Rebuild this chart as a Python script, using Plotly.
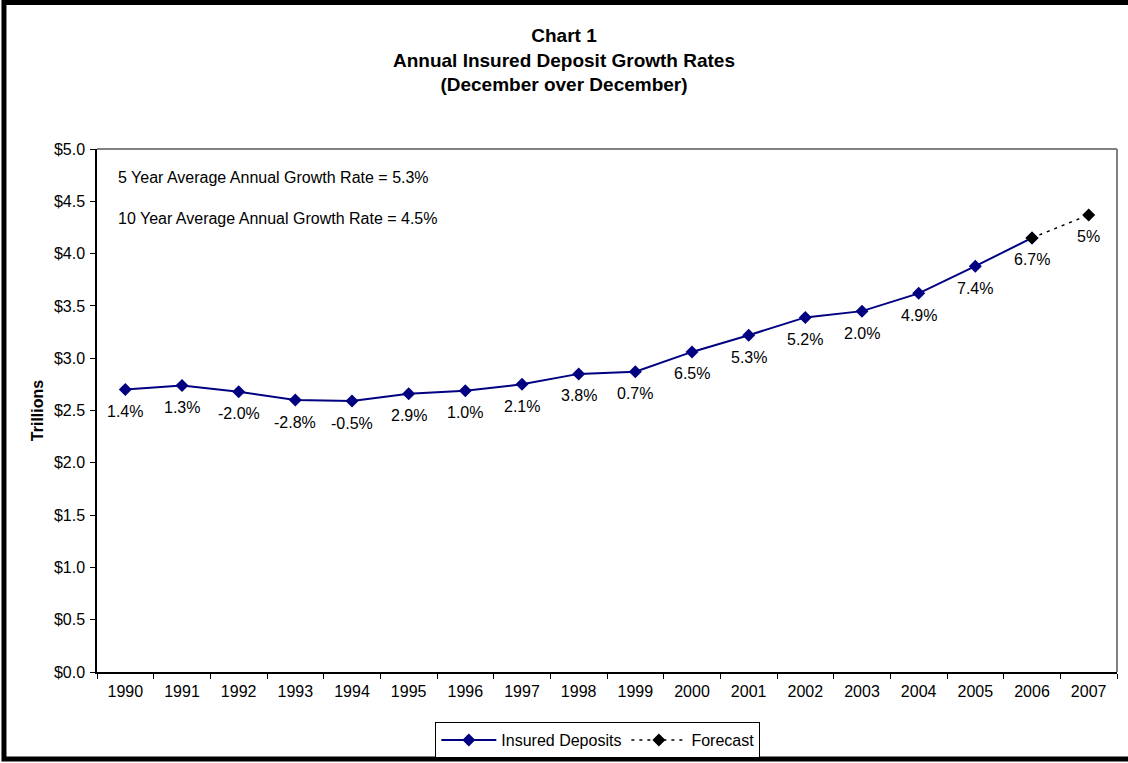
import plotly.graph_objects as go

years = [str(y) for y in range(1990, 2008)]
deposits = [2.70, 2.74, 2.68, 2.60, 2.59, 2.66, 2.69, 2.75, 2.85, 2.87,
            3.06, 3.22, 3.39, 3.45, 3.62, 3.88, 4.15]
growth_labels = ["1.4%", "1.3%", "-2.0%", "-2.8%", "-0.5%", "2.9%", "1.0%", "2.1%",
                 "3.8%", "0.7%", "6.5%", "5.3%", "5.2%", "2.0%", "4.9%", "7.4%", "6.7%"]
forecast_years = ["2006", "2007"]
forecast_values = [4.15, 4.37]
forecast_labels = ["", "5%"]
notes = ["5 Year Average Annual Growth Rate = 5.3%",
         "10 Year Average Annual Growth Rate = 4.5%"]

FONT = "Arial, Liberation Sans, sans-serif"

fig = go.Figure()
fig.add_trace(go.Scatter(
    x=years[:len(deposits)], y=deposits, name="Insured Deposits",
    mode="lines+markers",
    line=dict(color="#000080", width=2),
    marker=dict(symbol="diamond", size=10, color="#000080"),
))
fig.add_trace(go.Scatter(
    x=forecast_years, y=forecast_values, name="Forecast",
    mode="lines+markers",
    line=dict(color="black", width=1.5, dash="3px,5px"),
    marker=dict(symbol="diamond", size=10, color="black"),
))

# data labels below each point (x given as category index)
for xs, ys, labs in [(years[:len(deposits)], deposits, growth_labels),
                     (forecast_years, forecast_values, forecast_labels)]:
    for xv, yv, lab in zip(xs, ys, labs):
        if lab:
            fig.add_annotation(x=years.index(xv), y=yv, text=lab, showarrow=False,
                               yshift=-22, xanchor="center", yanchor="middle",
                               font=dict(size=16, color="black", family=FONT))

note_y = [0.946, 0.867]
for t, yy in zip(notes, note_y):
    fig.add_annotation(text=t, xref="paper", yref="paper", x=0.0186, y=yy,
                       xanchor="left", yanchor="middle", showarrow=False,
                       font=dict(size=16, color="black", family=FONT))

# plot-area gray border (top/right)
fig.add_shape(type="line", xref="paper", yref="paper", x0=0, x1=1, y0=1, y1=1,
              line=dict(color="#808080", width=2))
fig.add_shape(type="line", xref="paper", yref="paper", x0=1, x1=1, y0=0, y1=1,
              line=dict(color="#808080", width=2))
# outer black frame
fig.add_shape(type="rect", xref="paper", yref="paper", x0=-0.0912, x1=1.1,
              y0=-0.1663, y1=1.2801, line=dict(color="black", width=5))

fig.update_layout(
    width=1128, height=763,
    margin=dict(l=97, r=11, t=149, b=91),
    paper_bgcolor="white", plot_bgcolor="white",
    font=dict(family=FONT, size=16, color="black"),
    title=dict(text="<b>Chart 1<br>Annual Insured Deposit Growth Rates<br>(December over December)</b>",
               x=0.5, xref="container", y=0.945, yref="container", yanchor="top",
               font=dict(size=19, family=FONT, color="black")),
    showlegend=True,
    legend=dict(orientation="h", x=0.491, xanchor="center",
                y=0.0537, yref="container", yanchor="top",
                bordercolor="black", borderwidth=1, bgcolor="white",
                font=dict(size=16, family=FONT), itemwidth=55),
    xaxis=dict(type="category", categoryorder="array", categoryarray=years,
               range=[-0.5, len(years) - 0.5],
               tickson="boundaries", ticks="outside", ticklen=5, tickcolor="black",
               showline=True, linecolor="black", linewidth=1.5, showgrid=False,
               tickfont=dict(size=16), zeroline=False, ticklabelstandoff=4),
    yaxis=dict(range=[0, 5], dtick=0.5, tickformat="$.1f", ticks="outside",
               ticklen=5, tickcolor="black", showline=True, linecolor="black",
               linewidth=1.5, showgrid=False, zeroline=False, tickfont=dict(size=16),
               ticklabelstandoff=2,
               title=dict(text="<b>Trillions</b>", font=dict(size=16), standoff=6)),
)

fig.write_html("out.html", config={"displayModeBar": False},
               post_script="document.body.style.margin='0';document.body.style.overflow='hidden';")
